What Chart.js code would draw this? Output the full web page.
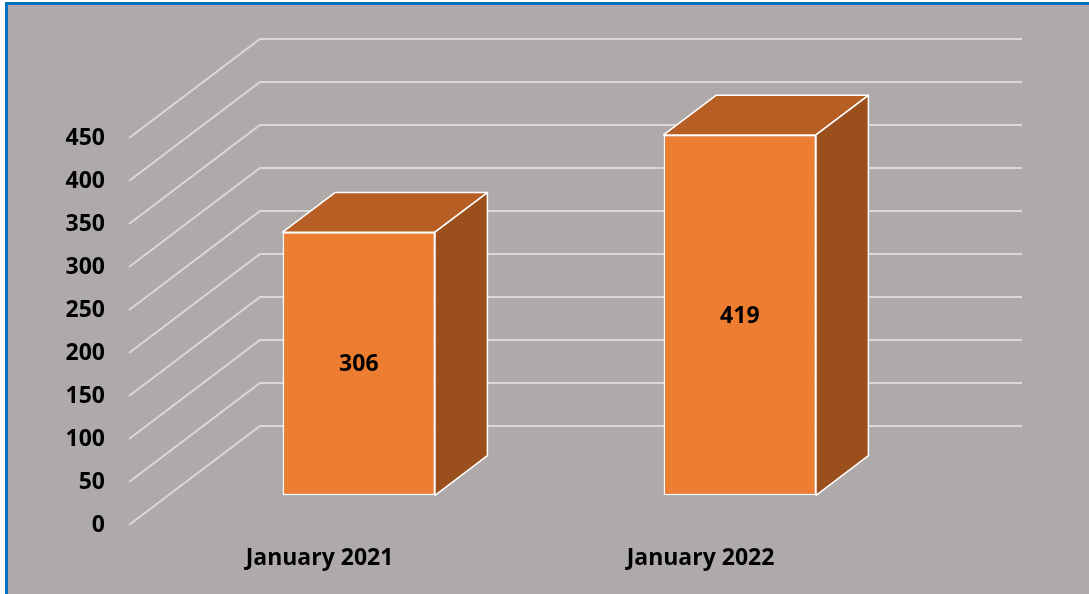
<!DOCTYPE html>
<html>
<head>
<meta charset="utf-8">
<script src="https://cdn.jsdelivr.net/npm/chart.js@4.4.1/dist/chart.umd.min.js"></script>
<style>
  html, body { margin: 0; padding: 0; background: #ffffff; }
  canvas { display: block; }
</style>
</head>
<body>
<canvas id="c" width="1089" height="594"></canvas>
<script>
// ---- data ----
const categories = ['January 2021', 'January 2022'];
const values = [306, 419];
const yMin = 0;
const yMax = 450;
const yStep = 50;

// ---- styling / 3D geometry ----
const DEPTH_X = 131, DEPTH_Y = -99;       // full floor depth vector
const BAR_FRONT = 0.3, BAR_DEPTH = 0.4;   // bar position within depth
const FONT = { family: '"Open Sans", "Liberation Sans", sans-serif', size: 23, weight: 'bold' };

const backgroundPlugin = {
  id: 'bg',
  beforeDraw(chart) {
    const ctx = chart.ctx;
    ctx.save();
    ctx.fillStyle = '#ffffff';
    ctx.fillRect(0, 0, chart.width, chart.height);
    ctx.fillStyle = '#AEAAAA';
    ctx.fillRect(5, 2, chart.width - 5, chart.height - 2);
    ctx.fillStyle = '#0070C0';
    ctx.fillRect(5, 2, chart.width - 5, 3);
    ctx.fillRect(5, 2, 3, chart.height - 2);
    ctx.restore();
  }
};

const gridPlugin = {
  id: 'grid3d',
  beforeDatasetsDraw(chart) {
    const ctx = chart.ctx;
    const ys = chart.scales.y;
    const area = chart.chartArea;
    ctx.save();
    ctx.strokeStyle = '#D9D9D9';
    ctx.lineWidth = 2;
    ys.ticks.forEach(t => {
      const y = ys.getPixelForValue(t.value);
      ctx.beginPath();
      ctx.moveTo(area.left, y);
      ctx.lineTo(area.left + DEPTH_X, y + DEPTH_Y);
      ctx.lineTo(area.right + DEPTH_X, y + DEPTH_Y);
      ctx.stroke();
    });
    ctx.restore();
    // shift bars into their depth slot
    ctx.save();
    ctx.translate(DEPTH_X * BAR_FRONT, DEPTH_Y * BAR_FRONT);
  },
  afterDatasetsDraw(chart) {
    const ctx = chart.ctx;
    const meta = chart.getDatasetMeta(0);
    const dx = DEPTH_X * BAR_DEPTH, dy = DEPTH_Y * BAR_DEPTH;
    meta.data.forEach((bar, i) => {
      const p = bar.getProps(['x', 'y', 'base', 'width'], true);
      const L = p.x - p.width / 2, R = p.x + p.width / 2, T = p.y, B = p.base;
      ctx.lineWidth = 1.5;
      ctx.strokeStyle = '#ffffff';
      ctx.lineJoin = 'round';
      // top face
      ctx.beginPath();
      ctx.moveTo(L, T); ctx.lineTo(R, T); ctx.lineTo(R + dx, T + dy); ctx.lineTo(L + dx, T + dy); ctx.closePath();
      ctx.fillStyle = '#B65E23';
      ctx.fill(); ctx.stroke();
      // side face
      ctx.beginPath();
      ctx.moveTo(R, T); ctx.lineTo(R + dx, T + dy); ctx.lineTo(R + dx, B + dy); ctx.lineTo(R, B); ctx.closePath();
      ctx.fillStyle = '#9A4F1D';
      ctx.fill(); ctx.stroke();
      // value label
      ctx.fillStyle = '#000000';
      ctx.font = `${FONT.weight} ${FONT.size}px ${FONT.family}`;
      ctx.textAlign = 'center';
      ctx.textBaseline = 'middle';
      ctx.fillText(String(values[i]), p.x, (T + B) / 2 + 1);
    });
    ctx.restore();
  }
};

new Chart(document.getElementById('c'), {
  type: 'bar',
  data: {
    labels: categories,
    datasets: [{
      data: values,
      backgroundColor: '#ED7D31',
      borderColor: '#ffffff',
      borderWidth: 1.5,
      borderSkipped: false,
      categoryPercentage: 1.0,
      barPercentage: 0.4
    }]
  },
  options: {
    responsive: false,
    animation: false,
    devicePixelRatio: 1,
    layout: { padding: { left: 0, top: 138, right: 198, bottom: 0 } },
    plugins: { legend: { display: false }, tooltip: { enabled: false } },
    datasets: { bar: { clip: false } },
    scales: {
      x: {
        grid: { display: false, drawTicks: false },
        border: { display: false },
        ticks: { color: '#000000', font: FONT, padding: 20 },
        afterFit(s) { s.height = 69; }
      },
      y: {
        min: yMin, max: yMax,
        grid: { display: false, drawTicks: false },
        border: { display: false },
        ticks: { stepSize: yStep, color: '#000000', font: FONT, padding: 24 },
        afterFit(s) { s.width = 129; }
      }
    }
  },
  plugins: [backgroundPlugin, gridPlugin]
});
</script>
</body>
</html>
